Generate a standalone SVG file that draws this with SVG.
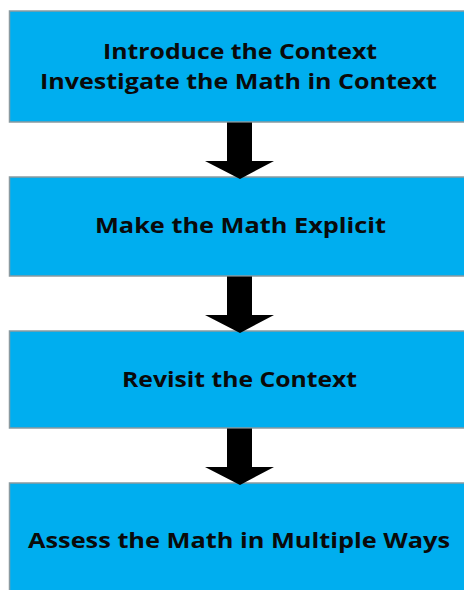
<svg xmlns="http://www.w3.org/2000/svg" width="464" height="590" viewBox="0 0 464 590">
<style>
.box{fill:#00AEEF;stroke:#8a9aa0;stroke-width:1.5}
.lbl{font-family:"Open Sans","DejaVu Sans",sans-serif;font-weight:bold;font-size:22px;fill:#0a0a0a;text-anchor:middle}
.arr{fill:#000}
</style>
<rect width="464" height="590" fill="#fff"/>
<g id="node1">
<rect class="box" x="9.5" y="11" width="460" height="111"/>
<text class="lbl" x="240" y="59" textLength="274" lengthAdjust="spacingAndGlyphs">Introduce the Context</text>
<text class="lbl" x="238.5" y="89" textLength="397" lengthAdjust="spacingAndGlyphs">Investigate the Math in Context</text>
</g>
<g id="node2">
<rect class="box" x="9.5" y="177" width="460" height="99"/>
<text class="lbl" x="240.5" y="233" textLength="291" lengthAdjust="spacingAndGlyphs">Make the Math Explicit</text>
</g>
<g id="node3">
<rect class="box" x="9.5" y="331" width="460" height="97"/>
<text class="lbl" x="239.5" y="387" textLength="235" lengthAdjust="spacingAndGlyphs">Revisit the Context</text>
</g>
<g id="node4">
<rect class="box" x="9.5" y="483" width="460" height="112"/>
<text class="lbl" x="239" y="548" textLength="422" lengthAdjust="spacingAndGlyphs">Assess the Math in Multiple Ways</text>
</g>
<g id="connectors">
<polygon class="arr" points="227,122.5 252,122.5 252,161 274,161 240,179 205,161 227,161"/>
<polygon class="arr" points="227,276.5 252,276.5 252,315 274,315 240,333 205,315 227,315"/>
<polygon class="arr" points="227,428.5 252,428.5 252,467 274,467 240,485 205,467 227,467"/>
</g>
</svg>
